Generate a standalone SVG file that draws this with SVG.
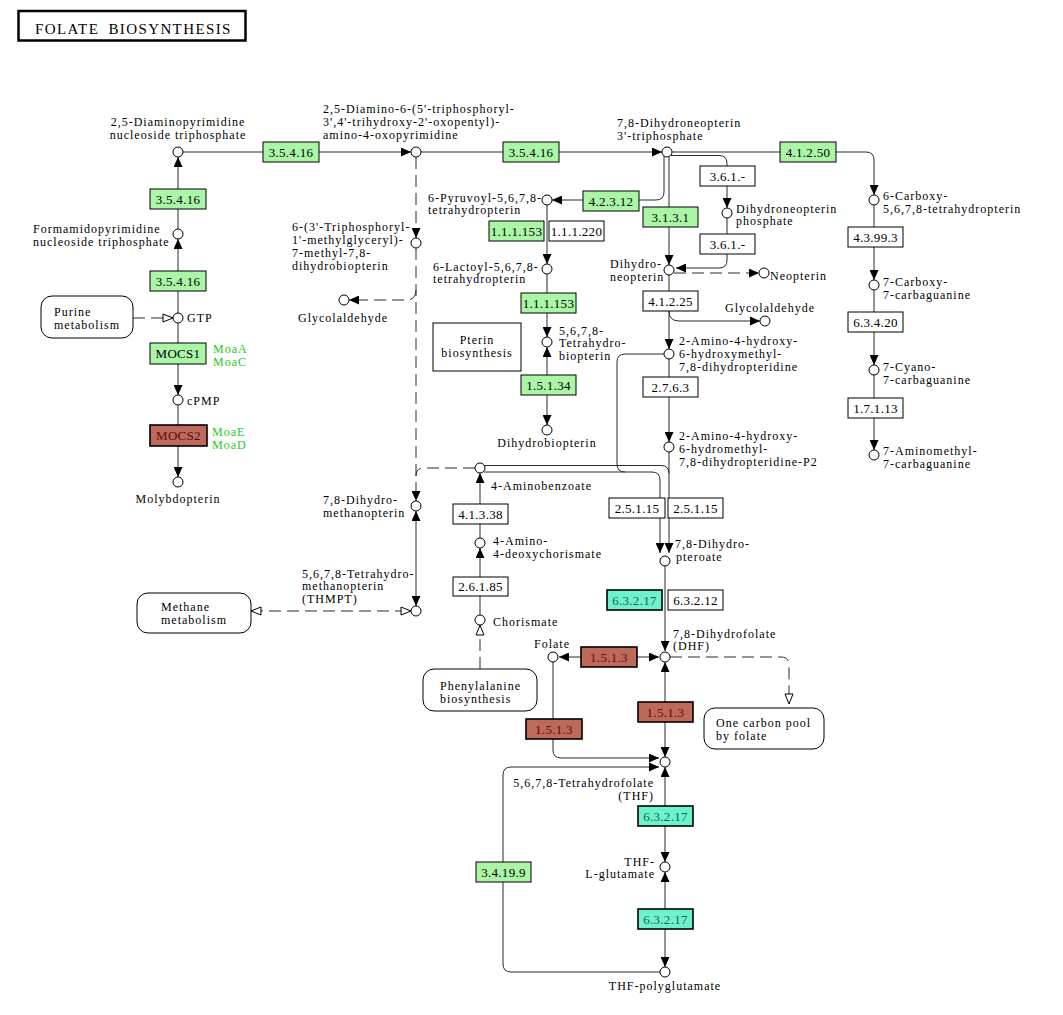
<svg xmlns="http://www.w3.org/2000/svg" width="1063" height="1015" viewBox="0 0 1063 1015">
<style>
.bg{fill:#fff}
.l{fill:none;stroke:#2a2a2a;stroke-width:1}
.d{stroke-dasharray:12 6}
.nd{fill:#fff;stroke:#000;stroke-width:1}
.bx{stroke:#000;stroke-width:1}
.g{fill:#aaf5a6}
.w{fill:#fff}
.r{fill:#bf685c;stroke-width:1.6}
.c{fill:#6cf2cc;stroke-width:1.6}
.m{fill:#fff;stroke:#000;stroke-width:1}
text{font-family:"Liberation Serif","Times New Roman",serif;font-size:12px;letter-spacing:1px;fill:#000}
.bt{font-size:13px;letter-spacing:0.3px;text-anchor:middle}
.rt{fill:#5a0c0c}
.ct{fill:#1d5e56}
.gt{fill:#1ec81e}
.mid{text-anchor:middle}
.end{text-anchor:end}
</style>
<defs>
<marker id="a" markerUnits="userSpaceOnUse" viewBox="0 0 10 9" markerWidth="10" markerHeight="9" refX="10" refY="4.5" orient="auto-start-reverse"><path d="M0,0L10,4.5L0,9z" fill="#000"/></marker>
<marker id="o" markerUnits="userSpaceOnUse" viewBox="-1 -1 12 10" markerWidth="12" markerHeight="10" refX="10" refY="4" orient="auto-start-reverse"><path d="M0,0L10,4L0,8z" fill="#fff" stroke="#000" stroke-width="1"/></marker>
</defs>
<rect class="bg" x="0" y="0" width="1063" height="1015"/>

<g id="title">
<rect x="18.5" y="11" width="227" height="29.5" fill="#fff" stroke="#000" stroke-width="2.5"/>
<text x="35" y="34" style="font-size:15px;letter-spacing:1.4px;word-spacing:4px">FOLATE BIOSYNTHESIS</text>
</g>

<g id="connectors">
<path class="l" d="M178,229V157" marker-end="url(#a)"/>
<path class="l" d="M178,313V239" marker-end="url(#a)"/>
<path class="l" d="M178,323V395" marker-end="url(#a)"/>
<path class="l" d="M178,405V477" marker-end="url(#a)"/>
<path class="l d" d="M133,318H173" marker-end="url(#o)"/>
<path class="l" d="M183,152H411" marker-end="url(#a)"/>
<path class="l" d="M421,152H662" marker-end="url(#a)"/>
<path class="l" d="M672,152H866Q874,152 874,160V195" marker-end="url(#a)"/>
<path class="l" d="M664,156V192Q664,200 656,200H552" marker-end="url(#a)"/>
<path class="l" d="M669,157V265" marker-end="url(#a)"/>
<path class="l" d="M671,155.5H719Q727,155.5 727,163.5V208" marker-end="url(#a)"/>
<path class="l" d="M727,218V260Q727,268 719,268H676" marker-end="url(#a)"/>
<path class="l d" d="M674,273H759" marker-end="url(#a)"/>
<path class="l" d="M669,275V349" marker-end="url(#a)"/>
<path class="l" d="M669,311Q669,321 679,321H760" marker-end="url(#a)"/>
<path class="l" d="M669,359V442" marker-end="url(#a)"/>
<path class="l" d="M874,205V280" marker-end="url(#a)"/>
<path class="l" d="M874,290V365" marker-end="url(#a)"/>
<path class="l" d="M874,375V450" marker-end="url(#a)"/>
<path class="l" d="M547,205V264" marker-end="url(#a)"/>
<path class="l" d="M547,274V337" marker-end="url(#a)"/>
<path class="l" d="M547,347V425" marker-start="url(#a)" marker-end="url(#a)"/>
<path class="l d" d="M416,157V238" marker-end="url(#a)"/>
<path class="l d" d="M416,248V501" marker-end="url(#a)"/>
<path class="l d" d="M416,290Q416,300 406,300H349" marker-end="url(#a)"/>
<path class="l d" d="M475,468H424Q416,468 416,476"/>
<path class="l" d="M416,511V606" marker-start="url(#a)" marker-end="url(#a)"/>
<path class="l d" d="M251,611H411" marker-start="url(#o)" marker-end="url(#o)"/>
<path class="l" d="M480,538V473" marker-end="url(#a)"/>
<path class="l" d="M480,615V548" marker-end="url(#a)"/>
<path class="l d" d="M480,669V625" marker-end="url(#o)"/>
<path class="l" d="M669,452V553" marker-end="url(#a)"/>
<path class="l" d="M484,465.5H661Q669,465.5 669,473.5"/>
<path class="l" d="M484,472H652Q660,472 660,480V553" marker-end="url(#a)"/>
<path class="l" d="M664,354H625Q617,354 617,362V464Q617,472 625,472"/>
<path class="l" d="M665,566V651" marker-end="url(#a)"/>
<path class="l" d="M559,657H659" marker-start="url(#a)" marker-end="url(#a)"/>
<path class="l" d="M665,662V757" marker-start="url(#a)" marker-end="url(#a)"/>
<path class="l" d="M553,662V750Q553,758 561,758H659" marker-end="url(#a)"/>
<path class="l" d="M660,972H511Q503,972 503,964V775Q503,767 511,767H659" marker-end="url(#a)"/>
<path class="l" d="M665,767V862" marker-start="url(#a)" marker-end="url(#a)"/>
<path class="l" d="M665,872V967" marker-start="url(#a)" marker-end="url(#a)"/>
<path class="l d" d="M670,657H781Q789,657 789,665V704" marker-end="url(#o)"/>
</g>

<g id="maps">
<g id="map-purine"><rect class="m" x="41" y="296" width="92" height="42" rx="11"/><text x="54" y="316">Purine</text><text x="54" y="329">metabolism</text></g>
<g id="map-methane"><rect class="m" x="137" y="593" width="114" height="40" rx="11"/><text x="161" y="611">Methane</text><text x="161" y="624">metabolism</text></g>
<g id="map-phe"><rect class="m" x="423" y="669" width="114" height="42" rx="11"/><text x="440" y="690">Phenylalanine</text><text x="440" y="703">biosynthesis</text></g>
<g id="map-c1"><rect class="m" x="704" y="708" width="120" height="41" rx="11"/><text x="716" y="727">One carbon pool</text><text x="716" y="740">by folate</text></g>
<g id="map-pterin"><rect class="m" x="433" y="323" width="88" height="48"/><text class="mid" x="477" y="344">Pterin</text><text class="mid" x="477" y="357">biosynthesis</text></g>
</g>

<g id="enzymes">
<g id="e1"><rect class="bx g" x="263" y="142" width="56" height="20"/><text class="bt" x="291" y="157">3.5.4.16</text></g>
<g id="e2"><rect class="bx g" x="150" y="189" width="56" height="20"/><text class="bt" x="178" y="204">3.5.4.16</text></g>
<g id="e3"><rect class="bx g" x="150" y="271" width="56" height="20"/><text class="bt" x="178" y="286">3.5.4.16</text></g>
<g id="e4"><rect class="bx g" x="150" y="343" width="56" height="21"/><text class="bt" x="178" y="358">MOCS1</text><text class="gt" x="213" y="353">MoaA</text><text class="gt" x="213" y="366">MoaC</text></g>
<g id="e5"><rect class="bx r" x="150" y="425" width="57" height="21"/><text class="bt rt" x="178.5" y="440">MOCS2</text><text class="gt" x="212" y="436">MoaE</text><text class="gt" x="212" y="449">MoaD</text></g>
<g id="e6"><rect class="bx g" x="503" y="142" width="56" height="20"/><text class="bt" x="531" y="157">3.5.4.16</text></g>
<g id="e7"><rect class="bx g" x="780" y="142" width="56" height="20"/><text class="bt" x="808" y="157">4.1.2.50</text></g>
<g id="e8"><rect class="bx g" x="583" y="191" width="56" height="20"/><text class="bt" x="611" y="206">4.2.3.12</text></g>
<g id="e9"><rect class="bx g" x="643" y="207" width="55" height="20"/><text class="bt" x="670.5" y="222">3.1.3.1</text></g>
<g id="e10"><rect class="bx w" x="700" y="166" width="55" height="20"/><text class="bt" x="727.5" y="181">3.6.1.-</text></g>
<g id="e11"><rect class="bx w" x="700" y="234" width="55" height="20"/><text class="bt" x="727.5" y="249">3.6.1.-</text></g>
<g id="e12"><rect class="bx g" x="489" y="221" width="55" height="20"/><text class="bt" x="516.5" y="236">1.1.1.153</text></g>
<g id="e13"><rect class="bx w" x="549" y="221" width="55" height="20"/><text class="bt" x="576.5" y="236">1.1.1.220</text></g>
<g id="e14"><rect class="bx g" x="521" y="293" width="55" height="20"/><text class="bt" x="548.5" y="308">1.1.1.153</text></g>
<g id="e15"><rect class="bx g" x="521" y="375" width="55" height="20"/><text class="bt" x="548.5" y="390">1.5.1.34</text></g>
<g id="e16"><rect class="bx w" x="643" y="291" width="55" height="20"/><text class="bt" x="670.5" y="306">4.1.2.25</text></g>
<g id="e17"><rect class="bx w" x="643" y="377" width="55" height="20"/><text class="bt" x="670.5" y="392">2.7.6.3</text></g>
<g id="e18"><rect class="bx w" x="848" y="227" width="55" height="20"/><text class="bt" x="875.5" y="242">4.3.99.3</text></g>
<g id="e19"><rect class="bx w" x="848" y="312" width="55" height="20"/><text class="bt" x="875.5" y="327">6.3.4.20</text></g>
<g id="e20"><rect class="bx w" x="848" y="398" width="55" height="20"/><text class="bt" x="875.5" y="413">1.7.1.13</text></g>
<g id="e21"><rect class="bx w" x="609" y="498" width="56" height="20"/><text class="bt" x="637" y="513">2.5.1.15</text></g>
<g id="e22"><rect class="bx w" x="668" y="498" width="55" height="20"/><text class="bt" x="695.5" y="513">2.5.1.15</text></g>
<g id="e23"><rect class="bx c" x="607" y="590" width="55" height="20"/><text class="bt ct" x="634.5" y="605">6.3.2.17</text></g>
<g id="e24"><rect class="bx w" x="668" y="590" width="55" height="20"/><text class="bt" x="695.5" y="605">6.3.2.12</text></g>
<g id="e25"><rect class="bx r" x="581" y="647" width="56" height="20"/><text class="bt rt" x="609" y="662">1.5.1.3</text></g>
<g id="e26"><rect class="bx r" x="638" y="702" width="55" height="20"/><text class="bt rt" x="665.5" y="717">1.5.1.3</text></g>
<g id="e27"><rect class="bx r" x="526" y="719" width="56" height="20"/><text class="bt rt" x="554" y="734">1.5.1.3</text></g>
<g id="e28"><rect class="bx c" x="638" y="806" width="55" height="20"/><text class="bt ct" x="665.5" y="821">6.3.2.17</text></g>
<g id="e29"><rect class="bx c" x="638" y="909" width="55" height="20"/><text class="bt ct" x="665.5" y="924">6.3.2.17</text></g>
<g id="e30"><rect class="bx g" x="476" y="862" width="55" height="20"/><text class="bt" x="503.5" y="877">3.4.19.9</text></g>
<g id="e31"><rect class="bx w" x="453" y="504" width="55" height="20"/><text class="bt" x="480.5" y="519">4.1.3.38</text></g>
<g id="e32"><rect class="bx w" x="453" y="577" width="55" height="19"/><text class="bt" x="480.5" y="591">2.6.1.85</text></g>
</g>

<g id="compounds">
<g id="c-dapntp"><circle class="nd" cx="178" cy="152" r="5"/><text class="mid" x="178" y="126">2,5-Diaminopyrimidine</text><text class="mid" x="178" y="139">nucleoside triphosphate</text></g>
<g id="c-fapy"><circle class="nd" cx="178" cy="234" r="5"/><text x="33" y="233">Formamidopyrimidine</text><text x="33" y="246">nucleoside triphosphate</text></g>
<g id="c-gtp"><circle class="nd" cx="178" cy="318" r="5"/><text x="187" y="322">GTP</text></g>
<g id="c-cpmp"><circle class="nd" cx="178" cy="400" r="5"/><text x="187" y="405">cPMP</text></g>
<g id="c-moco"><circle class="nd" cx="178" cy="482" r="5"/><text class="mid" x="178" y="503">Molybdopterin</text></g>
<g id="c-dtop"><circle class="nd" cx="416" cy="152" r="5"/><text x="323" y="113">2,5-Diamino-6-(5'-triphosphoryl-</text><text x="323" y="126">3',4'-trihydroxy-2'-oxopentyl)-</text><text x="323" y="139">amino-4-oxopyrimidine</text></g>
<g id="c-tpmg"><circle class="nd" cx="416" cy="243" r="5"/><text x="292" y="231">6-(3'-Triphosphoryl-</text><text x="292" y="244">1'-methylglyceryl)-</text><text x="292" y="257">7-methyl-7,8-</text><text x="292" y="270">dihydrobiopterin</text></g>
<g id="c-glyc1"><circle class="nd" cx="344" cy="300" r="5"/><text class="mid" x="343" y="322">Glycolaldehyde</text></g>
<g id="c-dhntp"><circle class="nd" cx="667" cy="152" r="5"/><text x="617" y="127">7,8-Dihydroneopterin</text><text x="617" y="139.5">3'-triphosphate</text></g>
<g id="c-pyr"><circle class="nd" cx="547" cy="200" r="5"/><text x="428" y="201.5">6-Pyruvoyl-5,6,7,8-</text><text x="428" y="214">tetrahydropterin</text></g>
<g id="c-lac"><circle class="nd" cx="547" cy="269" r="5"/><text x="433" y="270.5">6-Lactoyl-5,6,7,8-</text><text x="433" y="283">tetrahydropterin</text></g>
<g id="c-bh4"><circle class="nd" cx="547" cy="342" r="5"/><text x="559" y="334.5">5,6,7,8-</text><text x="559" y="347">Tetrahydro-</text><text x="559" y="359.5">biopterin</text></g>
<g id="c-bh2"><circle class="nd" cx="547" cy="430" r="5"/><text class="mid" x="547" y="447">Dihydrobiopterin</text></g>
<g id="c-dhnp"><circle class="nd" cx="727" cy="213" r="5"/><text x="736" y="212.5">Dihydroneopterin</text><text x="736" y="225">phosphate</text></g>
<g id="c-dhn"><circle class="nd" cx="669" cy="270" r="5"/><text x="610" y="268">Dihydro-</text><text x="610" y="281">neopterin</text></g>
<g id="c-neo"><circle class="nd" cx="764" cy="273" r="5"/><text x="770" y="280">Neopterin</text></g>
<g id="c-glyc2"><circle class="nd" cx="765" cy="321" r="5"/><text x="725" y="312">Glycolaldehyde</text></g>
<g id="c-hmdp"><circle class="nd" cx="669" cy="354" r="5"/><text x="679" y="345">2-Amino-4-hydroxy-</text><text x="679" y="357.5">6-hydroxymethyl-</text><text x="679" y="370.5">7,8-dihydropteridine</text></g>
<g id="c-hmdpp"><circle class="nd" cx="669" cy="447" r="5"/><text x="679" y="440">2-Amino-4-hydroxy-</text><text x="679" y="453">6-hydromethyl-</text><text x="679" y="466">7,8-dihydropteridine-P2</text></g>
<g id="c-cph4"><circle class="nd" cx="874" cy="200" r="5"/><text x="883" y="200">6-Carboxy-</text><text x="883" y="213">5,6,7,8-tetrahydropterin</text></g>
<g id="c-cdg"><circle class="nd" cx="874" cy="285" r="5"/><text x="883" y="286">7-Carboxy-</text><text x="883" y="299">7-carbaguanine</text></g>
<g id="c-preq0"><circle class="nd" cx="874" cy="370" r="5"/><text x="883" y="370.5">7-Cyano-</text><text x="883" y="383.5">7-carbaguanine</text></g>
<g id="c-preq1"><circle class="nd" cx="874" cy="455" r="5"/><text x="883" y="454.5">7-Aminomethyl-</text><text x="883" y="467.5">7-carbaguanine</text></g>
<g id="c-pab"><circle class="nd" cx="480" cy="468" r="5"/><text x="491" y="490">4-Aminobenzoate</text></g>
<g id="c-adc"><circle class="nd" cx="480" cy="543" r="5"/><text x="493" y="545">4-Amino-</text><text x="493" y="558">4-deoxychorismate</text></g>
<g id="c-chor"><circle class="nd" cx="480" cy="620" r="5"/><text x="493" y="626">Chorismate</text></g>
<g id="c-dhmpt"><circle class="nd" cx="416" cy="506" r="5"/><text x="323" y="504">7,8-Dihydro-</text><text x="323" y="517">methanopterin</text></g>
<g id="c-thmpt"><circle class="nd" cx="416" cy="611" r="5"/><text x="302" y="577.5">5,6,7,8-Tetrahydro-</text><text x="302" y="590">methanopterin</text><text x="302" y="603">(THMPT)</text></g>
<g id="c-dhp"><circle class="nd" cx="665" cy="561" r="5"/><text x="675" y="548">7,8-Dihydro-</text><text x="676" y="561">pteroate</text></g>
<g id="c-dhf"><circle class="nd" cx="665" cy="657" r="5"/><text x="673" y="637.5">7,8-Dihydrofolate</text><text x="673" y="650">(DHF)</text></g>
<g id="c-fol"><circle class="nd" cx="553" cy="657" r="5"/><text class="mid" x="552" y="648">Folate</text></g>
<g id="c-thf"><circle class="nd" cx="665" cy="762" r="5"/><text class="end" x="654" y="787">5,6,7,8-Tetrahydrofolate</text><text class="end" x="654" y="800">(THF)</text></g>
<g id="c-thfglu"><circle class="nd" cx="665" cy="867" r="5"/><text class="end" x="655" y="865.5">THF-</text><text class="end" x="655" y="878">L-glutamate</text></g>
<g id="c-thfpg"><circle class="nd" cx="665" cy="972" r="5"/><text class="mid" x="665" y="990">THF-polyglutamate</text></g>
</g>
</svg>
